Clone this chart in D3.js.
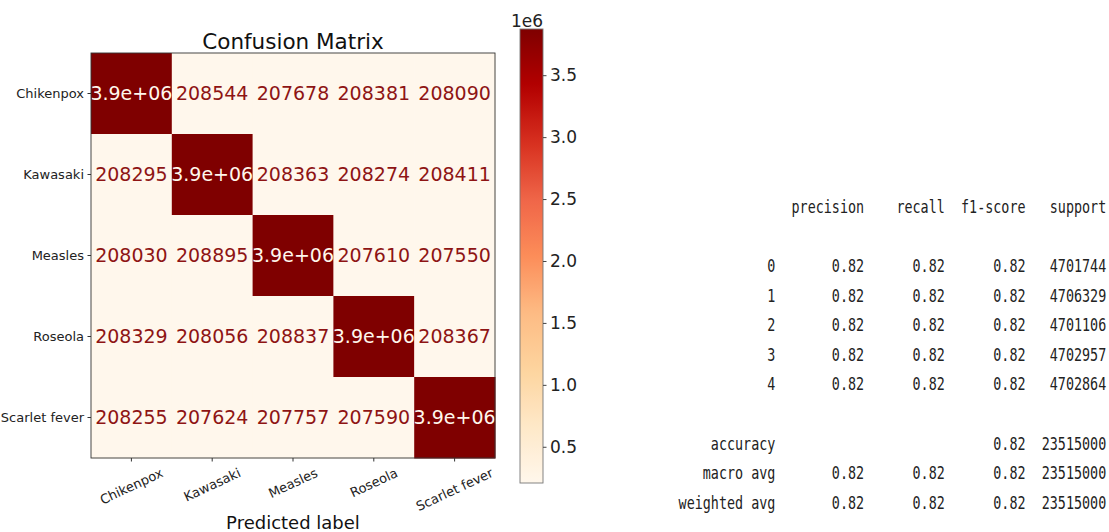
<!DOCTYPE html>
<html>
<head>
<meta charset="utf-8">
<script src="https://cdn.jsdelivr.net/npm/d3@7"></script>
<style>
  html, body { margin: 0; padding: 0; background: #ffffff; }
  svg { display: block; }
</style>
</head>
<body>
<svg id="chart" width="1109" height="532"></svg>
<script>
// ---------- data ----------
const classes = ["Chikenpox", "Kawasaki", "Measles", "Roseola", "Scarlet fever"];
const rowChikenpox = [3869051, 208544, 207678, 208381, 208090];
const rowKawasaki  = [208295, 3872986, 208363, 208274, 208411];
const rowMeasles   = [208030, 208895, 3869021, 207610, 207550];
const rowRoseola   = [208329, 208056, 208837, 3869368, 208367];
const rowScarlet   = [208255, 207624, 207757, 207590, 3871638];
const matrixRows = [rowChikenpox, rowKawasaki, rowMeasles, rowRoseola, rowScarlet];
const colorbarTicks = [500000, 1000000, 1500000, 2000000, 2500000, 3000000, 3500000];
const colorbarTickLabels = ["0.5", "1.0", "1.5", "2.0", "2.5", "3.0", "3.5"];

const reportHeaders = ["precision", "recall", "f1-score", "support"];
const reportLabels = ["0", "1", "2", "3", "4"];
const reportPrecision = [0.82, 0.82, 0.82, 0.82, 0.82];
const reportRecall = [0.82, 0.82, 0.82, 0.82, 0.82];
const reportF1 = [0.82, 0.82, 0.82, 0.82, 0.82];
const reportSupport = [4701744, 4706329, 4701106, 4702957, 4702864];
const summaryLabels = ["accuracy", "macro avg", "weighted avg"];
const summaryPrecision = [null, 0.82, 0.82];
const summaryRecall = [null, 0.82, 0.82];
const summaryF1 = [0.82, 0.82, 0.82];
const summarySupport = [23515000, 23515000, 23515000];

// ---------- setup ----------
const svg = d3.select("#chart");
const FONT = "'DejaVu Sans', sans-serif";
const MONO = "'DejaVu Sans Mono', monospace";

const cells = [];
matrixRows.forEach((row, i) => row.forEach((v, j) => cells.push({ r: classes[i], c: classes[j], v })));
const vmin = d3.min(cells, d => d.v), vmax = d3.max(cells, d => d.v);

const orrd = d3.schemeOrRd[9];
const color = d3.scaleLinear()
  .domain(d3.range(9).map(k => vmin + (vmax - vmin) * k / 8))
  .range(orrd)
  .interpolate(d3.interpolateRgb);

const L = 91, R = 495, T = 53, B = 458;
const x = d3.scaleBand().domain(classes).range([L, R]);
const y = d3.scaleBand().domain(classes).range([T, B]);

function fmtCell(v) {
  const e = Math.floor(Math.log10(v));
  let m = (v / Math.pow(10, e)).toFixed(1);
  let ee = e;
  if (parseFloat(m) >= 10) { m = (parseFloat(m) / 10).toFixed(1); ee += 1; }
  const g = m.replace(/\.0$/, "") + "e+" + String(ee).padStart(2, "0");
  const d = String(Math.round(v));
  return d.length < g.length ? d : g;
}

// ---------- heatmap ----------
svg.append("g").selectAll("rect").data(cells).join("rect")
  .attr("x", d => x(d.c)).attr("y", d => y(d.r))
  .attr("width", x.bandwidth() + 0.5).attr("height", y.bandwidth() + 0.5)
  .attr("fill", d => color(d.v));

const thresh = (vmax + vmin) / 2;
svg.append("g").selectAll("text").data(cells).join("text")
  .attr("x", d => x(d.c) + x.bandwidth() / 2)
  .attr("y", d => y(d.r) + y.bandwidth() / 2)
  .attr("text-anchor", "middle").attr("dy", "0.36em")
  .attr("font-family", FONT).attr("font-size", 19)
  .attr("fill", d => d.v > thresh ? orrd[0] : "#8e1414")
  .text(d => fmtCell(d.v));

svg.append("rect").attr("x", L).attr("y", T).attr("width", R - L).attr("height", B - T)
  .attr("fill", "none").attr("stroke", "#333").attr("stroke-width", 0.9);

// y axis
const yAxis = svg.append("g").attr("transform", `translate(${L},0)`)
  .call(d3.axisLeft(y).tickSize(3.5).tickSizeOuter(0).tickPadding(3.5));
yAxis.select(".domain").remove();
yAxis.selectAll("line").attr("stroke", "#333");
yAxis.selectAll("text").attr("font-family", FONT).attr("font-size", 13).attr("fill", "#222");

// x axis
const xAxis = svg.append("g").attr("transform", `translate(0,${B})`)
  .call(d3.axisBottom(x).tickSize(3.5).tickSizeOuter(0));
xAxis.select(".domain").remove();
xAxis.selectAll("line").attr("stroke", "#333");
const ang = 25 * Math.PI / 180;
xAxis.selectAll("text")
  .attr("font-family", FONT).attr("font-size", 13).attr("fill", "#222")
  .attr("text-anchor", "middle").attr("dy", "0.35em")
  .attr("y", 0)
  .attr("transform", function () {
    const w = this.getComputedTextLength();
    const h = w * Math.sin(ang) + 13 * Math.cos(ang);
    return `translate(0,${8 + h / 2}) rotate(-25)`;
  });

svg.append("text").attr("x", (L + R) / 2).attr("y", 49)
  .attr("text-anchor", "middle").attr("font-family", FONT).attr("font-size", 21.5)
  .attr("fill", "#111").text("Confusion Matrix");
svg.append("text").attr("x", (L + R) / 2).attr("y", 529)
  .attr("text-anchor", "middle").attr("font-family", FONT).attr("font-size", 18)
  .attr("fill", "#111").text("Predicted label");

// ---------- colorbar ----------
const CL = 520, CR = 543, CT = 29, CB = 483;
const cy = d3.scaleLinear().domain([vmin, vmax]).range([CB, CT]);
const defs = svg.append("defs");
const grad = defs.append("linearGradient").attr("id", "cbar")
  .attr("x1", 0).attr("y1", 1).attr("x2", 0).attr("y2", 0);
d3.range(0, 1.0001, 0.02).forEach(t => {
  grad.append("stop").attr("offset", t).attr("stop-color", color(vmin + t * (vmax - vmin)));
});
svg.append("rect").attr("x", CL).attr("y", CT).attr("width", CR - CL).attr("height", CB - CT)
  .attr("fill", "url(#cbar)").attr("stroke", "#777").attr("stroke-width", 0.9);
const cAxis = svg.append("g").attr("transform", `translate(${CR},0)`)
  .call(d3.axisRight(cy).tickValues(colorbarTicks)
    .tickFormat((d, i) => colorbarTickLabels[i]).tickSize(3.5).tickSizeOuter(0).tickPadding(3.5));
cAxis.select(".domain").remove();
cAxis.selectAll("line").attr("stroke", "#444");
cAxis.selectAll("text").attr("font-family", FONT).attr("font-size", 17).attr("fill", "#222");
svg.append("text").attr("x", CR).attr("y", 27).attr("text-anchor", "end")
  .attr("font-family", FONT).attr("font-size", 17).attr("fill", "#222").text("1e6");

// ---------- classification report ----------
const cw = 8.07, x0 = 678.5, base0 = 212.8, lh = 29.6;
const colEnds = [12, 23, 33, 43, 53];
const rep = svg.append("g").attr("font-family", MONO).attr("font-size", 13.4).attr("fill", "#222");
function putCell(str, col, line) {
  if (str === null || str === undefined) return;
  rep.append("text")
    .attr("text-anchor", "end")
    .attr("transform", `translate(${x0 + colEnds[col] * cw},${base0 + line * lh}) scale(1,1.3)`)
    .text(str);
}
reportHeaders.forEach((h, k) => putCell(h, k + 1, 0));
reportLabels.forEach((lab, i) => {
  const line = 2 + i;
  putCell(lab, 0, line);
  putCell(reportPrecision[i].toFixed(2), 1, line);
  putCell(reportRecall[i].toFixed(2), 2, line);
  putCell(reportF1[i].toFixed(2), 3, line);
  putCell(String(reportSupport[i]), 4, line);
});
summaryLabels.forEach((lab, i) => {
  const line = 8 + i;
  putCell(lab, 0, line);
  putCell(summaryPrecision[i] === null ? null : summaryPrecision[i].toFixed(2), 1, line);
  putCell(summaryRecall[i] === null ? null : summaryRecall[i].toFixed(2), 2, line);
  putCell(summaryF1[i].toFixed(2), 3, line);
  putCell(String(summarySupport[i]), 4, line);
});
</script>
</body>
</html>
